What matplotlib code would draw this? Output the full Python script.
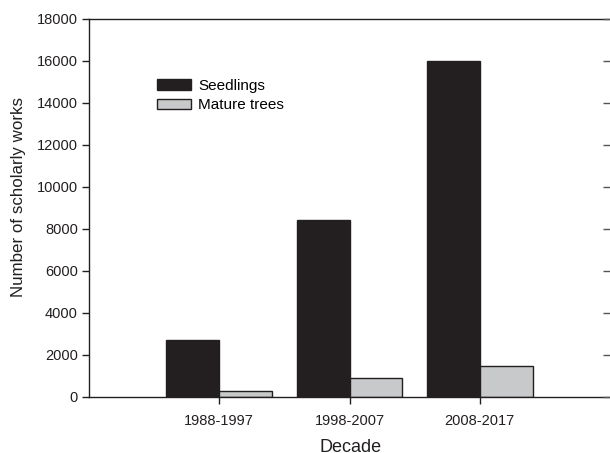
import matplotlib
matplotlib.use("Agg")
import matplotlib.pyplot as plt
import matplotlib.patches as mpatches
import numpy as np

plt.rcParams['font.family'] = ['Liberation Sans', 'DejaVu Sans']

decades = ["1988-1997", "1998-2007", "2008-2017"]
seedlings = [2700, 8450, 16000]
mature_trees = [270, 900, 1500]

dark = '#231f20'
light = '#c8c9ca'

fig = plt.figure(figsize=(6.10, 4.53), dpi=100)
ax = fig.add_axes([89/610, 56/453, 1 - 89/610, 378/453])

x = np.arange(1, len(decades) + 1)
w = 0.405
ax.bar(x - w/2, seedlings, w, color=dark, edgecolor=dark, linewidth=1)
ax.bar(x + w/2, mature_trees, w, color=light, edgecolor=dark, linewidth=1)

ax.set_xlim(0, 4)
ax.set_ylim(0, 18000)
ax.set_xticks(x)
ax.set_xticklabels(decades)
ax.set_yticks(range(0, 18001, 2000))

for s in ['left', 'bottom', 'top']:
    ax.spines[s].set_color(dark)
    ax.spines[s].set_linewidth(1)
ax.spines['right'].set_visible(False)

ax.tick_params(axis='both', direction='out', length=5, width=1, color=dark,
               labelsize=10.5, labelcolor=dark, pad=3)
ax.tick_params(axis='x', pad=7)

# right side ticks point inward
ax2 = ax.twinx()
ax2.set_ylim(ax.get_ylim())
ax2.set_yticks(range(0, 18001, 2000))
ax2.tick_params(axis='y', direction='in', length=5, width=1, color='#555555',
                labelright=False)
for s in ax2.spines.values():
    s.set_visible(False)

ax.set_xlabel("Decade", fontsize=13, color=dark)
ax.xaxis.set_label_coords((351 - 89)/521, -0.112)
ax.set_ylabel("Number of scholarly works", fontsize=12.2, color=dark)
ax.yaxis.set_label_coords(-0.12, 0.529)

seed_patch = mpatches.Patch(facecolor=dark, edgecolor=dark, label='Seedlings')
mat_patch = mpatches.Patch(facecolor=light, edgecolor=dark, label='Mature trees')
fig.legend(handles=[seed_patch, mat_patch], loc='upper left',
           bbox_to_anchor=(157/610, (453 - 79)/453), frameon=False,
           fontsize=11, handlelength=2.2, handleheight=0.7,
           handletextpad=0.5, labelspacing=0.35, borderpad=0, borderaxespad=0)

fig.savefig("out.png", dpi=100)
